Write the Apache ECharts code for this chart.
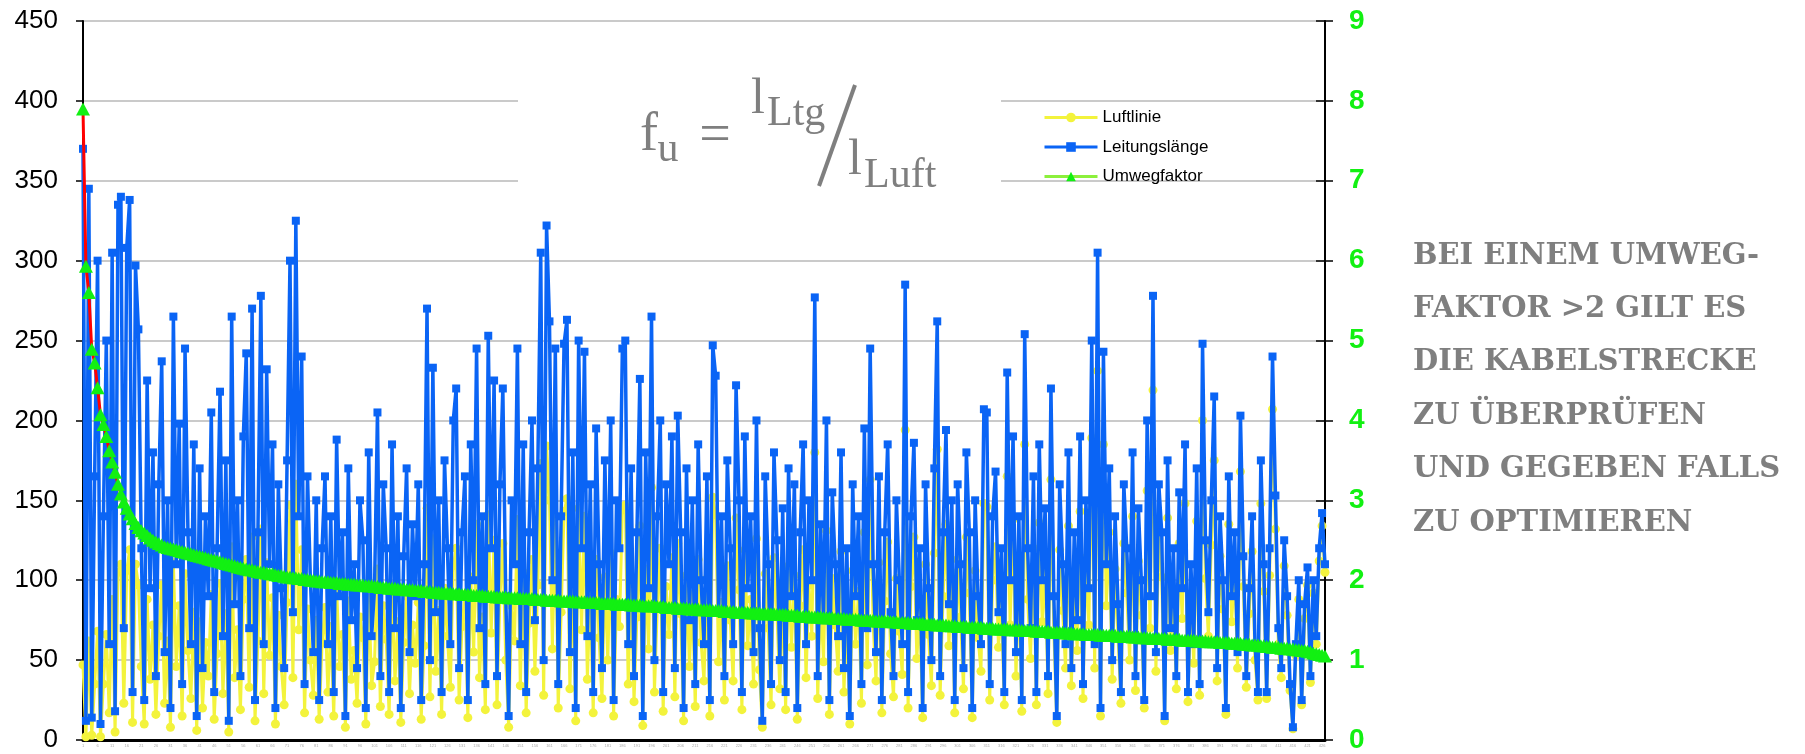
<!DOCTYPE html>
<html>
<head>
<meta charset="utf-8">
<script src="https://cdn.jsdelivr.net/npm/echarts@6/dist/echarts.min.js"></script>
<style>
  html, body { margin: 0; padding: 0; background: #fff; }
  #chart { width: 1805px; height: 754px; }
</style>
</head>
<body>
<div id="chart"></div>
<script>
// Leitungslänge (left axis)
const leitung = [
  370, 12, 345, 14, 165, 300, 10, 140, 250, 60, 305, 18, 335, 340, 70, 308, 338, 30, 297, 257,
  120, 25, 225, 95, 180, 40, 160, 237, 55, 150, 20, 265, 110, 198, 35, 245, 130, 60, 185, 15,
  170, 45, 140, 90, 205, 30, 120, 218, 65, 175, 12, 265, 85, 150, 40, 190, 242, 70, 270, 25,
  130, 278, 60, 232, 110, 185, 20, 160, 95, 45, 175, 300, 80, 325, 140, 240, 35, 165, 100, 55,
  150, 25, 120, 165, 60, 140, 30, 188, 90, 130, 15, 170, 75, 110, 45, 150, 125, 20, 180, 65,
  95, 205, 40, 160, 120, 30, 185, 70, 140, 20, 115, 170, 55, 135, 90, 160, 25, 110, 270, 50,
  233, 80, 150, 30, 175, 120, 60, 200, 220, 45, 130, 165, 25, 185, 100, 245, 70, 140, 35, 253,
  120, 225, 40, 160, 220, 90, 15, 150, 110, 245, 60, 185, 30, 130, 200, 75, 170, 305, 50, 322,
  262, 100, 245, 35, 140, 248, 263, 55, 180, 20, 250, 120, 243, 65, 160, 30, 195, 110, 45, 175,
  85, 200, 25, 150, 120, 245, 250, 60, 170, 40, 130, 226, 15, 180, 95, 265, 50, 140, 200, 30,
  160, 110, 190, 45, 203, 130, 20, 170, 75, 150, 35, 185, 100, 60, 165, 25, 247, 228, 80, 140,
  40, 175, 120, 60, 222, 150, 30, 190, 95, 140, 55, 200, 70, 12, 165, 110, 35, 180, 125, 50,
  145, 30, 170, 90, 160, 20, 130, 185, 60, 150, 100, 277, 40, 135, 75, 200, 25, 155, 110, 65,
  180, 45, 120, 15, 160, 90, 140, 35, 195, 70, 245, 110, 55, 165, 25, 130, 185, 80, 40, 150,
  100, 60, 285, 30, 140, 186, 75, 120, 20, 160, 95, 50, 170, 262, 40, 130, 194, 85, 150, 25,
  160, 110, 45, 180, 130, 20, 150, 90, 60, 207, 205, 35, 140, 168, 80, 120, 30, 230, 100, 190,
  55, 140, 25, 254, 120, 70, 165, 30, 185, 100, 145, 40, 220, 90, 15, 160, 110, 60, 180, 45,
  130, 75, 190, 35, 150, 95, 250, 60, 305, 20, 243, 110, 170, 50, 140, 85, 30, 160, 120, 65,
  180, 40, 145, 100, 25, 200, 90, 278, 55, 160, 130, 15, 175, 70, 120, 40, 155, 95, 185, 30,
  110, 60, 170, 35, 248, 125, 80, 150, 215, 45, 140, 100, 20, 165, 90, 130, 55, 203, 115, 40,
  95, 140, 60, 30, 175, 110, 30, 120, 240, 153, 70, 45, 125, 90, 35, 8, 60, 100, 25, 85,
  108, 40, 100, 65, 120, 142, 110
];

// Luftlinie (left axis)
const luftlinie = [
  47, 2, 62, 3, 35, 68, 2, 35, 66, 17, 88, 5, 105, 110, 23, 106, 119, 11, 110, 97,
  46, 10, 88, 38, 72, 16, 65, 97, 23, 62, 8, 111, 46, 84, 15, 104, 56, 26, 80, 6,
  74, 20, 61, 40, 91, 13, 54, 98, 29, 79, 5, 121, 39, 69, 19, 88, 113, 33, 127, 12,
  62, 132, 29, 111, 53, 89, 10, 78, 46, 22, 86, 147, 39, 160, 69, 119, 17, 82, 50, 28,
  75, 13, 61, 83, 30, 71, 15, 95, 46, 66, 8, 87, 38, 56, 23, 77, 64, 10, 93, 34,
  49, 107, 21, 84, 63, 16, 97, 37, 74, 11, 61, 90, 29, 72, 48, 86, 13, 59, 145, 27,
  126, 43, 81, 16, 95, 65, 33, 109, 120, 25, 71, 91, 14, 102, 55, 135, 39, 77, 19, 141,
  67, 125, 22, 89, 123, 50, 8, 84, 62, 138, 34, 105, 17, 73, 113, 43, 97, 173, 28, 184,
  150, 57, 140, 20, 80, 143, 151, 32, 103, 12, 145, 69, 140, 38, 93, 17, 113, 64, 26, 102,
  50, 117, 15, 88, 71, 144, 147, 35, 101, 24, 77, 134, 9, 107, 57, 158, 30, 84, 120, 18,
  96, 66, 114, 27, 123, 79, 12, 103, 46, 91, 21, 113, 61, 37, 101, 15, 152, 141, 49, 86,
  25, 109, 75, 37, 139, 94, 19, 119, 59, 88, 35, 126, 44, 8, 104, 70, 22, 114, 80, 32,
  92, 19, 109, 58, 103, 13, 84, 119, 39, 97, 65, 180, 26, 88, 49, 131, 16, 101, 72, 43,
  118, 30, 79, 10, 106, 60, 93, 23, 130, 47, 163, 73, 37, 111, 17, 87, 124, 54, 27, 101,
  68, 41, 194, 20, 96, 127, 51, 82, 14, 110, 66, 34, 117, 182, 28, 90, 135, 59, 105, 17,
  113, 77, 32, 127, 92, 14, 106, 64, 43, 148, 146, 25, 100, 121, 58, 86, 22, 165, 72, 138,
  40, 101, 18, 185, 88, 51, 120, 22, 136, 74, 107, 29, 163, 67, 11, 119, 81, 45, 134, 34,
  98, 56, 143, 26, 114, 72, 189, 45, 231, 15, 185, 84, 130, 38, 107, 65, 23, 123, 92, 50,
  140, 31, 112, 78, 20, 156, 70, 219, 43, 126, 102, 12, 139, 56, 95, 32, 123, 76, 148, 24,
  88, 48, 137, 28, 200, 101, 65, 122, 175, 37, 115, 82, 16, 135, 74, 107, 45, 168, 96, 33,
  79, 118, 50, 25, 148, 93, 26, 103, 207, 132, 60, 39, 109, 78, 31, 7, 53, 88, 22, 76,
  97, 36, 92, 60, 112, 134, 105
];

// Umwegfaktor (right axis)
const umwegfaktor = [
  7.9, 5.93, 5.6, 4.89, 4.72, 4.41, 4.07, 3.95, 3.8, 3.62, 3.48, 3.35, 3.2, 3.08, 2.98, 2.9, 2.83, 2.77, 2.71, 2.66,
  2.62, 2.59, 2.56, 2.53, 2.5, 2.48, 2.46, 2.44, 2.42, 2.41, 2.4, 2.39, 2.38, 2.37, 2.36, 2.35, 2.34, 2.33, 2.32, 2.31,
  2.3, 2.29, 2.28, 2.27, 2.26, 2.25, 2.24, 2.23, 2.22, 2.21, 2.2, 2.19, 2.18, 2.17, 2.16, 2.15, 2.14, 2.13, 2.13, 2.12,
  2.11, 2.1, 2.1, 2.09, 2.08, 2.08, 2.07, 2.06, 2.06, 2.05, 2.04, 2.04, 2.03, 2.03, 2.02, 2.02, 2.01, 2.01, 2.0, 2.0,
  1.99, 1.99, 1.98, 1.98, 1.98, 1.97, 1.97, 1.97, 1.96, 1.96, 1.96, 1.95, 1.95, 1.95, 1.94, 1.94, 1.94, 1.93, 1.93, 1.93,
  1.92, 1.92, 1.91, 1.91, 1.91, 1.9, 1.9, 1.9, 1.89, 1.89, 1.89, 1.88, 1.88, 1.88, 1.87, 1.87, 1.87, 1.86, 1.86, 1.86,
  1.85, 1.85, 1.85, 1.84, 1.84, 1.84, 1.84, 1.83, 1.83, 1.83, 1.82, 1.82, 1.82, 1.82, 1.81, 1.81, 1.81, 1.81, 1.8, 1.8,
  1.8, 1.8, 1.79, 1.79, 1.79, 1.79, 1.78, 1.78, 1.78, 1.78, 1.77, 1.77, 1.77, 1.77, 1.77, 1.76, 1.76, 1.76, 1.76, 1.75,
  1.75, 1.75, 1.75, 1.75, 1.74, 1.74, 1.74, 1.74, 1.74, 1.73, 1.73, 1.73, 1.73, 1.72, 1.72, 1.72, 1.72, 1.72, 1.71, 1.71,
  1.71, 1.71, 1.71, 1.7, 1.7, 1.7, 1.7, 1.7, 1.69, 1.69, 1.69, 1.69, 1.68, 1.68, 1.68, 1.68, 1.68, 1.67, 1.67, 1.67,
  1.66, 1.66, 1.66, 1.66, 1.65, 1.65, 1.65, 1.65, 1.64, 1.64, 1.64, 1.64, 1.63, 1.63, 1.63, 1.63, 1.62, 1.62, 1.62, 1.62,
  1.61, 1.61, 1.61, 1.61, 1.6, 1.6, 1.6, 1.6, 1.6, 1.59, 1.59, 1.59, 1.59, 1.58, 1.58, 1.58, 1.58, 1.58, 1.57, 1.57,
  1.57, 1.57, 1.56, 1.56, 1.56, 1.56, 1.55, 1.55, 1.55, 1.55, 1.54, 1.54, 1.54, 1.54, 1.53, 1.53, 1.53, 1.53, 1.52, 1.52,
  1.52, 1.52, 1.51, 1.51, 1.51, 1.51, 1.51, 1.5, 1.5, 1.5, 1.5, 1.5, 1.49, 1.49, 1.49, 1.49, 1.49, 1.48, 1.48, 1.48,
  1.47, 1.47, 1.47, 1.47, 1.46, 1.46, 1.46, 1.46, 1.46, 1.45, 1.45, 1.45, 1.45, 1.44, 1.44, 1.44, 1.44, 1.43, 1.43, 1.43,
  1.42, 1.42, 1.42, 1.42, 1.41, 1.41, 1.41, 1.41, 1.41, 1.4, 1.4, 1.4, 1.4, 1.39, 1.39, 1.39, 1.39, 1.39, 1.38, 1.38,
  1.38, 1.38, 1.37, 1.37, 1.37, 1.37, 1.37, 1.36, 1.36, 1.36, 1.36, 1.36, 1.35, 1.35, 1.35, 1.35, 1.35, 1.34, 1.34, 1.34,
  1.33, 1.33, 1.33, 1.33, 1.32, 1.32, 1.32, 1.32, 1.32, 1.31, 1.31, 1.31, 1.31, 1.31, 1.31, 1.3, 1.3, 1.3, 1.3, 1.3,
  1.29, 1.29, 1.29, 1.28, 1.28, 1.28, 1.28, 1.27, 1.27, 1.27, 1.27, 1.27, 1.26, 1.26, 1.26, 1.26, 1.26, 1.25, 1.25, 1.25,
  1.25, 1.25, 1.24, 1.24, 1.24, 1.24, 1.23, 1.23, 1.23, 1.23, 1.22, 1.22, 1.22, 1.22, 1.21, 1.21, 1.21, 1.21, 1.2, 1.2,
  1.2, 1.19, 1.19, 1.19, 1.18, 1.18, 1.17, 1.17, 1.16, 1.16, 1.16, 1.15, 1.15, 1.15, 1.14, 1.14, 1.13, 1.13, 1.12, 1.12,
  1.11, 1.1, 1.09, 1.08, 1.07, 1.06, 1.05
];

const categories = leitung.map((v, i) => String(i + 1));

const hinweis = [
  'BEI EINEM UMWEG-',
  'FAKTOR >2 GILT ES',
  'DIE KABELSTRECKE',
  'ZU ÜBERPRÜFEN',
  'UND GEGEBEN FALLS',
  'ZU OPTIMIEREN'
];

const gray = '#7f7f7f';
const serif = 'Liberation Serif';

const graphics = [
  // white box behind the formula, covers the grid lines
  { type: 'rect', z: 1, shape: { x: 518, y: 62, width: 483, height: 150 }, style: { fill: '#fff' } },
  { type: 'text', z: 5, style: { x: 649, y: 136, text: 'f', font: '54px ' + serif, fill: gray, textAlign: 'center', textVerticalAlign: 'middle' } },
  { type: 'text', z: 5, style: { x: 668, y: 150, text: 'u', font: '42px ' + serif, fill: gray, textAlign: 'center', textVerticalAlign: 'middle' } },
  { type: 'text', z: 5, style: { x: 715, y: 137, text: '=', font: '56px ' + serif, fill: gray, textAlign: 'center', textVerticalAlign: 'middle' } },
  { type: 'text', z: 5, style: { x: 758, y: 100, text: 'l', font: '50px ' + serif, fill: gray, textAlign: 'center', textVerticalAlign: 'middle' } },
  { type: 'text', z: 5, style: { x: 767, y: 114, text: 'Ltg', font: '42px ' + serif, fill: gray, textAlign: 'left', textVerticalAlign: 'middle' } },
  { type: 'line', z: 5, shape: { x1: 855, y1: 85, x2: 819, y2: 186 }, style: { stroke: gray, lineWidth: 4 } },
  { type: 'text', z: 5, style: { x: 855, y: 161, text: 'l', font: '50px ' + serif, fill: gray, textAlign: 'center', textVerticalAlign: 'middle' } },
  { type: 'text', z: 5, style: { x: 864, y: 176, text: 'Luft', font: '42px ' + serif, fill: gray, textAlign: 'left', textVerticalAlign: 'middle' } }
];

hinweis.forEach((t, i) => {
  graphics.push({
    type: 'text', z: 5,
    style: {
      x: 1413, y: 256 + i * 53.4, text: t,
      font: 'bold 29px "DejaVu Serif"', fill: gray,
      textAlign: 'left', textVerticalAlign: 'middle'
    }
  });
});

const green = '#12f012';

const chart = echarts.init(document.getElementById('chart'));
chart.setOption({
  animation: false,
  backgroundColor: '#fff',
  grid: { left: 83, right: 480, top: 21, bottom: 13, containLabel: false },
  legend: {
    orient: 'vertical',
    left: 1038,
    top: 104,
    itemWidth: 53,
    itemHeight: 12,
    itemGap: 12.5,
    textStyle: { fontFamily: 'Liberation Sans', fontSize: 17, color: '#000' },
    data: [
      { name: 'Luftlinie', lineStyle: { width: 3 } },
      { name: 'Leitungslänge', lineStyle: { width: 3 } },
      { name: 'Umwegfaktor', lineStyle: { color: '#8cf03c', width: 3 } }
    ]
  },
  xAxis: {
    type: 'category',
    boundaryGap: false,
    data: categories,
    axisLine: { lineStyle: { color: '#000', width: 3 } },
    axisTick: { show: false },
    axisLabel: { interval: 4, fontSize: 4, color: '#aaa', margin: 4 },
    splitLine: { show: false }
  },
  yAxis: [
    {
      type: 'value',
      min: 0, max: 450, interval: 50,
      axisLine: { show: true, lineStyle: { color: '#000', width: 2 } },
      axisTick: { show: true, length: 7, lineStyle: { color: '#000', width: 1.5 } },
      axisLabel: { fontFamily: 'Liberation Sans', fontSize: 26, color: '#000', margin: 25 },
      splitLine: { lineStyle: { color: '#b8b8b8', width: 1.5 } }
    },
    {
      type: 'value',
      position: 'right',
      min: 0, max: 9, interval: 1,
      axisLine: { show: true, lineStyle: { color: '#000', width: 2 } },
      axisTick: { show: true, length: 8, lineStyle: { color: '#000', width: 1.5 } },
      axisLabel: { fontFamily: 'Liberation Sans', fontWeight: 'bold', fontSize: 28, color: green, margin: 24 },
      splitLine: { show: false }
    },
    {
      // inner half of the crossing ticks on the right axis
      type: 'value',
      position: 'right',
      min: 0, max: 9, interval: 1,
      axisLine: { show: false },
      axisTick: { show: true, inside: true, length: 9, lineStyle: { color: '#000', width: 1.5 } },
      axisLabel: { show: false },
      splitLine: { show: false }
    }
  ],
  series: [
    {
      name: 'Luftlinie',
      type: 'line',
      data: luftlinie,
      z: 2,
      showAllSymbol: true,
      symbol: 'circle',
      symbolSize: 9,
      color: '#f3f33c',
      lineStyle: { width: 3, color: '#f3f33c' },
      itemStyle: { color: '#f3f33c' }
    },
    {
      name: 'Leitungslänge',
      type: 'line',
      data: leitung,
      z: 3,
      showAllSymbol: true,
      symbol: 'rect',
      symbolSize: 8,
      color: '#0a64f5',
      lineStyle: { width: 3.5, color: '#0a64f5' },
      itemStyle: { color: '#0a64f5' }
    },
    {
      name: 'Umwegfaktor',
      type: 'line',
      yAxisIndex: 1,
      data: umwegfaktor,
      z: 4,
      showAllSymbol: true,
      symbol: 'triangle',
      symbolSize: [14, 13],
      color: green,
      lineStyle: { width: 3, color: '#ff0000' },
      itemStyle: { color: green }
    }
  ],
  graphic: graphics
});
</script>
</body>
</html>
